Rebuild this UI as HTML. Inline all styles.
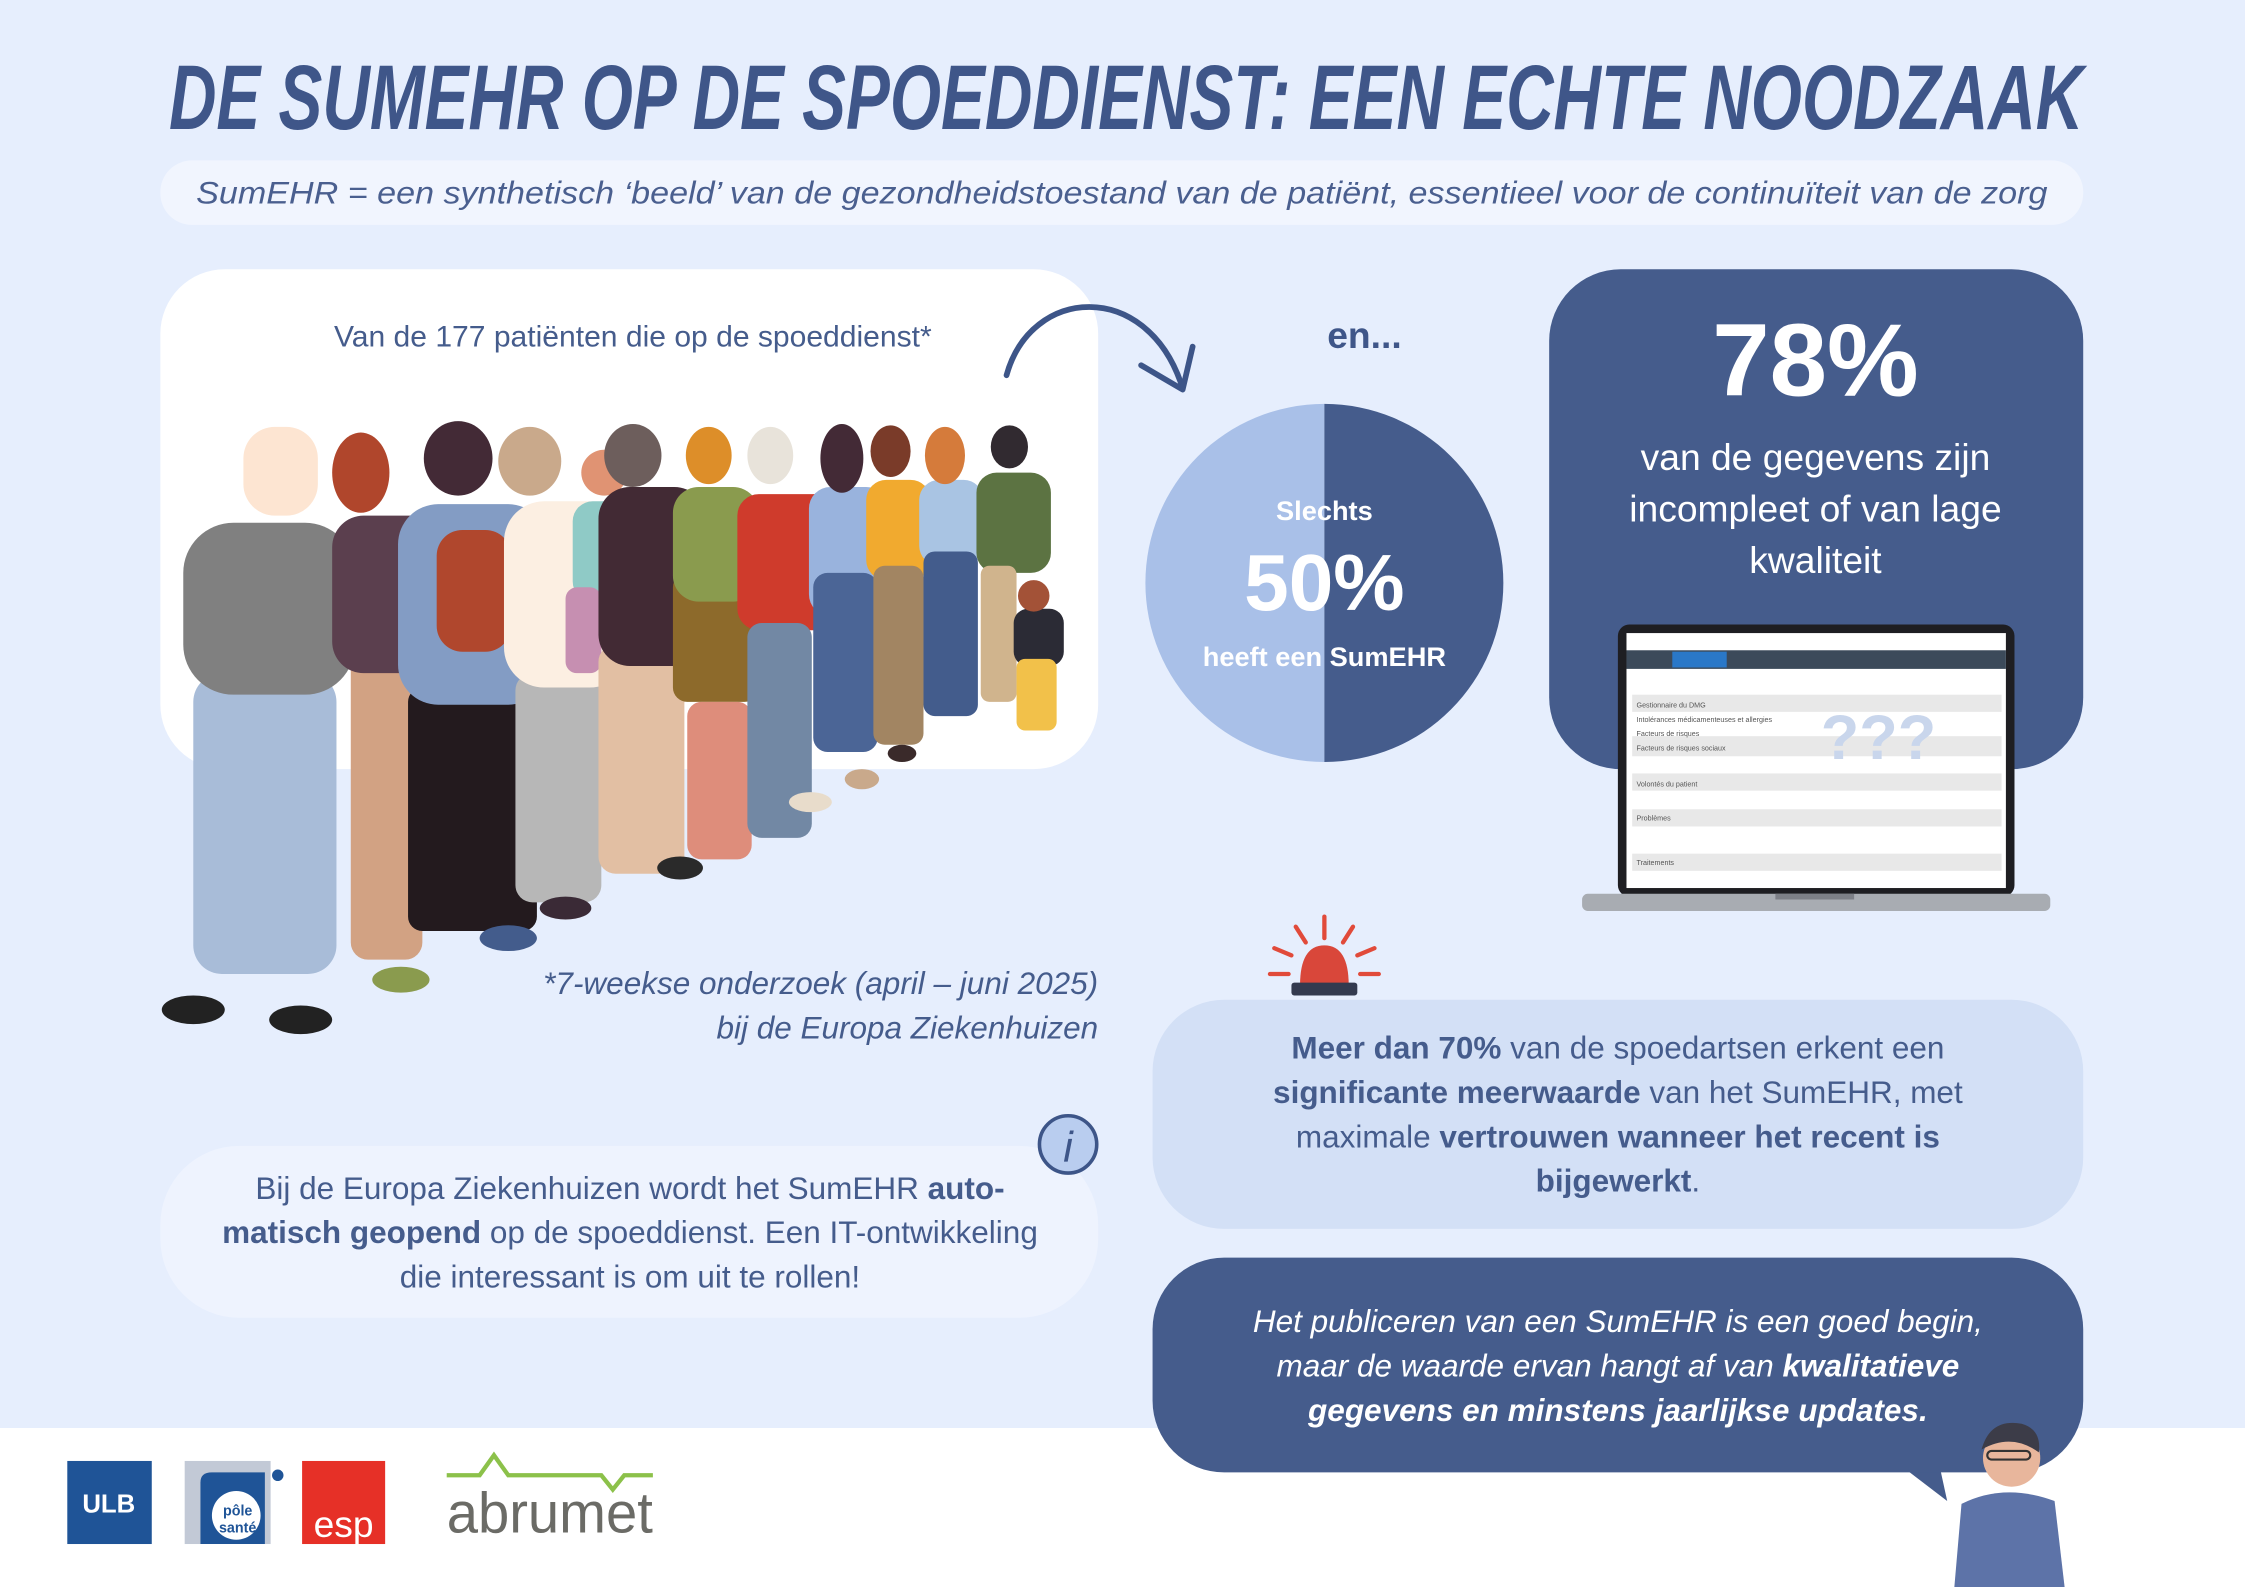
<!DOCTYPE html>
<html><head><meta charset="utf-8"><style>
html,body{margin:0;padding:0;background:#e7effd;}
svg{display:block;}
text{font-family:"Liberation Sans",sans-serif;}
</style></head><body>
<svg width="2245" height="1587" viewBox="0 0 1568 1108" preserveAspectRatio="none" xmlns="http://www.w3.org/2000/svg">
<rect x="0" y="0" width="1568" height="1108" fill="#e6eefd"/>
<rect x="0" y="997" width="1568" height="111" fill="#ffffff"/>

<text x="118" y="90" font-size="64" font-weight="bold" font-style="italic" fill="#3f5689" textLength="1337" lengthAdjust="spacingAndGlyphs">DE SUMEHR OP DE SPOEDDIENST: EEN ECHTE NOODZAAK</text>

<rect x="112" y="112" width="1343" height="45" rx="22" fill="#f1f5fe"/>
<text x="137" y="142" font-size="22" font-style="italic" fill="#4a5f8f" textLength="1293" lengthAdjust="spacingAndGlyphs">SumEHR = een synthetisch ‘beeld’ van de gezondheidstoestand van de patiënt, essentieel voor de continuïteit van de zorg</text>

<rect x="112" y="188" width="655" height="349" rx="45" fill="#ffffff"/>
<text x="442" y="242" font-size="21" fill="#455c8c" text-anchor="middle">Van de 177 patiënten die op de spoeddienst*</text>

<g>
 <rect x="135" y="470" width="100" height="210" rx="20" fill="#a8bcd8"/>
 <rect x="128" y="365" width="120" height="120" rx="35" fill="#808080"/>
 <rect x="170" y="298" width="52" height="62" rx="22" fill="#fde5d2"/>
 <ellipse cx="135" cy="705" rx="22" ry="10" fill="#222"/><ellipse cx="210" cy="712" rx="22" ry="10" fill="#222"/>

 <rect x="245" y="420" width="50" height="250" rx="12" fill="#d2a283"/>
 <rect x="232" y="360" width="80" height="110" rx="22" fill="#5b3f4e"/>
 <ellipse cx="252" cy="330" rx="20" ry="28" fill="#b0462c"/>
 <ellipse cx="280" cy="684" rx="20" ry="9" fill="#8a9b4e"/>

 <rect x="285" y="480" width="90" height="170" rx="10" fill="#231a1e"/>
 <rect x="278" y="352" width="105" height="140" rx="28" fill="#839cc4"/>
 <rect x="305" y="370" width="52" height="85" rx="18" fill="#b0472d"/>
 <ellipse cx="320" cy="320" rx="24" ry="26" fill="#432a36"/>
 <ellipse cx="355" cy="655" rx="20" ry="9" fill="#435c8c"/>

 <rect x="360" y="470" width="60" height="160" rx="12" fill="#b7b7b7"/>
 <rect x="352" y="350" width="88" height="130" rx="28" fill="#fcefe2"/>
 <ellipse cx="370" cy="322" rx="22" ry="24" fill="#c9a98b"/>
 <rect x="400" y="350" width="42" height="70" rx="14" fill="#8fcac6"/>
 <ellipse cx="422" cy="330" rx="16" ry="16" fill="#e09373"/>
 <rect x="395" y="410" width="25" height="60" rx="8" fill="#c68fb1"/>
 <ellipse cx="395" cy="634" rx="18" ry="8" fill="#3a2a36"/>

 <rect x="418" y="450" width="60" height="160" rx="12" fill="#e2bfa3"/>
 <rect x="418" y="340" width="75" height="125" rx="22" fill="#422a34"/>
 <ellipse cx="442" cy="318" rx="20" ry="22" fill="#6d5e5c"/>
 <ellipse cx="475" cy="606" rx="16" ry="8" fill="#2a2a2a"/>

 <rect x="470" y="400" width="60" height="90" rx="10" fill="#8d6a2b"/>
 <rect x="470" y="340" width="60" height="80" rx="18" fill="#8a9b4e"/>
 <rect x="480" y="490" width="45" height="110" rx="10" fill="#de8d7b"/>
 <ellipse cx="495" cy="318" rx="16" ry="20" fill="#dd8e29"/>

 <rect x="515" y="345" width="75" height="95" rx="15" fill="#cf3b2c"/>
 <rect x="522" y="435" width="45" height="150" rx="10" fill="#7288a4"/>
 <ellipse cx="538" cy="318" rx="16" ry="20" fill="#e8e3da"/>
 <ellipse cx="566" cy="560" rx="15" ry="7" fill="#e8dccb"/>

 <rect x="565" y="340" width="55" height="90" rx="15" fill="#99b3dd"/>
 <rect x="568" y="400" width="45" height="125" rx="10" fill="#4b6596"/>
 <ellipse cx="588" cy="320" rx="15" ry="24" fill="#432a36"/>
 <ellipse cx="602" cy="544" rx="12" ry="7" fill="#c9a98b"/>

 <rect x="605" y="335" width="45" height="70" rx="14" fill="#f1aa2f"/>
 <rect x="610" y="395" width="35" height="125" rx="8" fill="#a28562"/>
 <ellipse cx="622" cy="315" rx="14" ry="18" fill="#7a3b29"/>
 <ellipse cx="630" cy="526" rx="10" ry="6" fill="#3a2a2a"/>

 <rect x="642" y="335" width="45" height="60" rx="14" fill="#a9c4e3"/>
 <rect x="645" y="385" width="38" height="115" rx="8" fill="#435c8c"/>
 <ellipse cx="660" cy="318" rx="14" ry="20" fill="#d57b3b"/>

 <rect x="682" y="330" width="52" height="70" rx="14" fill="#5c7342"/>
 <rect x="685" y="395" width="25" height="95" rx="6" fill="#d0b48d"/>
 <ellipse cx="705" cy="312" rx="13" ry="15" fill="#312a30"/>
 <rect x="708" y="425" width="35" height="40" rx="10" fill="#2b2b35"/>
 <rect x="710" y="460" width="28" height="50" rx="6" fill="#f2c14a"/>
 <circle cx="722" cy="416" r="11" fill="#a35237"/>
</g>

<text x="767" y="694" font-size="22" font-style="italic" fill="#455c8c" text-anchor="end">*7-weekse onderzoek (april – juni 2025)</text>
<text x="767" y="725" font-size="22" font-style="italic" fill="#455c8c" text-anchor="end">bij de Europa Ziekenhuizen</text>

<path d="M703 262 C720 200 800 195 825 268" fill="none" stroke="#3d5588" stroke-width="4" stroke-linecap="round"/>
<path d="M797 255 L826 272 L833 242" fill="none" stroke="#3d5588" stroke-width="4" stroke-linecap="round" stroke-linejoin="round"/>

<text x="953" y="243" font-size="26" font-weight="bold" fill="#3f5689" text-anchor="middle">en...</text>

<path d="M925 282 A125 125 0 0 0 925 532 Z" fill="#a9c0e8"/>
<path d="M925 282 A125 125 0 0 1 925 532 Z" fill="#455c8c"/>
<text x="925" y="363" font-size="19" font-weight="bold" fill="#fff" text-anchor="middle">Slechts</text>
<text x="925" y="426" font-size="56" font-weight="bold" fill="#fff" text-anchor="middle">50%</text>
<text x="925" y="465" font-size="19" font-weight="bold" fill="#fff" text-anchor="middle">heeft een SumEHR</text>

<rect x="1082" y="188" width="373" height="349" rx="50" fill="#455c8c"/>
<text x="1268" y="276" font-size="72" font-weight="bold" fill="#fff" text-anchor="middle">78%</text>
<text x="1268" y="328" font-size="26" fill="#fff" text-anchor="middle">van de gegevens zijn</text>
<text x="1268" y="364" font-size="26" fill="#fff" text-anchor="middle">incompleet of van lage</text>
<text x="1268" y="400" font-size="26" fill="#fff" text-anchor="middle">kwaliteit</text>

<rect x="1130" y="436" width="277" height="190" rx="8" fill="#1e1e22"/>
<rect x="1136" y="442" width="265" height="178" fill="#ffffff"/>
<rect x="1136" y="454" width="265" height="13" fill="#3c4a5a"/>
<rect x="1168" y="455" width="38" height="11" fill="#2a78c8"/>
<g fill="#e8e8e8"><rect x="1140" y="485" width="258" height="12"/><rect x="1140" y="514" width="258" height="14"/><rect x="1140" y="540" width="258" height="12"/><rect x="1140" y="565" width="258" height="12"/><rect x="1140" y="596" width="258" height="12"/></g>
<g fill="#555" font-size="5"><text x="1143" y="494">Gestionnaire du DMG</text><text x="1143" y="504">Intolérances médicamenteuses et allergies</text><text x="1143" y="514">Facteurs de risques</text><text x="1143" y="524">Facteurs de risques sociaux</text><text x="1143" y="549">Volontés du patient</text><text x="1143" y="573">Problèmes</text><text x="1143" y="604">Traitements</text></g>
<text x="1312" y="530" font-size="44" font-weight="bold" fill="#c9d6ec" text-anchor="middle">???</text>
<rect x="1105" y="624" width="327" height="12" rx="4" fill="#a8acb2"/>
<rect x="1240" y="624" width="55" height="4" fill="#7d8087"/>

<g stroke="#e14a3a" stroke-width="3" stroke-linecap="round">
<line x1="925" y1="640" x2="925" y2="655"/><line x1="905" y1="647" x2="912" y2="658"/><line x1="945" y1="647" x2="938" y2="658"/><line x1="890" y1="662" x2="902" y2="667"/><line x1="960" y1="662" x2="948" y2="667"/><line x1="887" y1="680" x2="900" y2="680"/><line x1="950" y1="680" x2="963" y2="680"/></g>
<path d="M908 688 Q908 660 925 660 Q942 660 942 688 Z" fill="#d9473a"/>
<rect x="902" y="686" width="46" height="9" rx="2" fill="#333a4f"/>

<rect x="805" y="698" width="650" height="160" rx="50" fill="#d3e0f6"/>
<g font-size="22" fill="#455c8c" text-anchor="middle">
<text x="1130" y="739"><tspan font-weight="bold">Meer dan 70%</tspan> van de spoedartsen erkent een</text>
<text x="1130" y="770"><tspan font-weight="bold">significante meerwaarde</tspan> van het SumEHR, met</text>
<text x="1130" y="801">maximale <tspan font-weight="bold">vertrouwen wanneer het recent is</tspan></text>
<text x="1130" y="832"><tspan font-weight="bold">bijgewerkt</tspan>.</text>
</g>

<rect x="112" y="800" width="655" height="120" rx="55" fill="#eef3fe"/>
<g font-size="22" fill="#455c8c" text-anchor="middle">
<text x="440" y="837">Bij de Europa Ziekenhuizen wordt het SumEHR <tspan font-weight="bold">auto-</tspan></text>
<text x="440" y="868"><tspan font-weight="bold">matisch geopend</tspan> op de spoeddienst. Een IT-ontwikkeling</text>
<text x="440" y="899">die interessant is om uit te rollen!</text>
</g>
<circle cx="746" cy="799" r="20" fill="#b9cdef" stroke="#3d5588" stroke-width="2.5"/>
<text x="746" y="811" font-size="30" font-style="italic" font-family="Liberation Serif" fill="#3d5588" text-anchor="middle">i</text>

<path d="M1330 1025 L1360 1048 L1355 1025 Z" fill="#455c8c"/>
<rect x="805" y="878" width="650" height="150" rx="50" fill="#455c8c"/>
<g font-size="22" font-style="italic" fill="#fff" text-anchor="middle">
<text x="1130" y="930">Het publiceren van een SumEHR is een goed begin,</text>
<text x="1130" y="961">maar de waarde ervan hangt af van <tspan font-weight="bold">kwalitatieve</tspan></text>
<text x="1130" y="992"><tspan font-weight="bold">gegevens en minstens jaarlijkse updates.</tspan></text>
</g>

<path d="M1365 1108 L1370 1050 Q1400 1035 1435 1048 L1442 1108 Z" fill="#5d73a8"/>
<circle cx="1405" cy="1018" r="20" fill="#e8b69c"/>
<path d="M1384 1012 Q1390 990 1412 994 Q1426 998 1424 1014 Q1405 1000 1384 1012 Z" fill="#3c3c48"/>
<rect x="1388" y="1013" width="30" height="6" rx="3" fill="none" stroke="#333" stroke-width="1.5"/>

<rect x="47" y="1020" width="59" height="58" fill="#1f5497"/>
<text x="76" y="1056" font-size="18" font-weight="bold" font-family="Liberation Serif" fill="#fff" text-anchor="middle">ULB</text>
<rect x="129" y="1020" width="60" height="58" fill="#c2c9d6"/>
<path d="M140 1078 L140 1035 Q140 1028 148 1028 L185 1028 L185 1078 Z" fill="#1f5497"/>
<circle cx="165" cy="1058" r="17" fill="#fff"/>
<circle cx="194" cy="1030" r="4" fill="#1f5497"/>
<text x="166" y="1058" font-size="10" font-weight="bold" fill="#1f5497" text-anchor="middle">pôle</text>
<text x="166" y="1070" font-size="10" font-weight="bold" fill="#1f5497" text-anchor="middle">santé</text>
<rect x="211" y="1020" width="58" height="58" fill="#e63027"/>
<text x="240" y="1073" font-size="26" fill="#fff" text-anchor="middle">esp</text>
<path d="M312 1030 L335 1030 L345 1016 L355 1030 L420 1030 L428 1040 L436 1030 L456 1030" fill="none" stroke="#8cc14a" stroke-width="3"/>
<text x="384" y="1070" font-size="40" fill="#6b6b66" text-anchor="middle" textLength="144" lengthAdjust="spacingAndGlyphs">abrumet</text>
</svg>
</body></html>
